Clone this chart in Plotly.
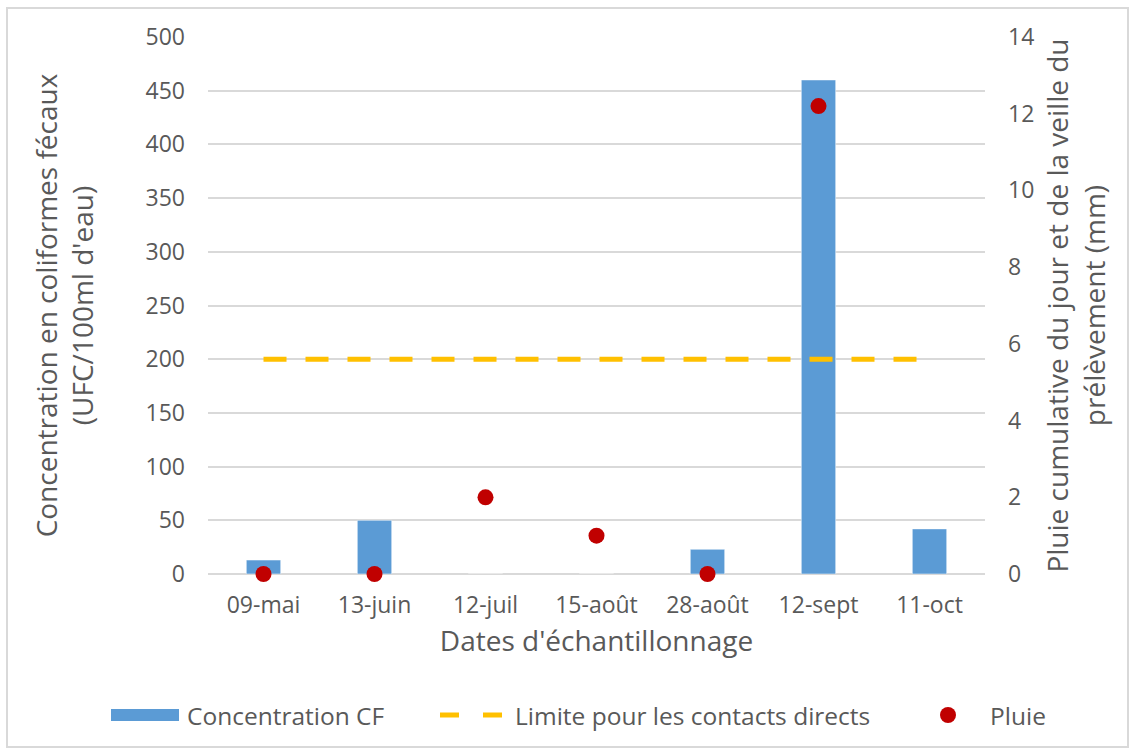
import plotly.graph_objects as go

# Sampling dates
dates = ["09-mai", "13-juin", "12-juil", "15-août", "28-août", "12-sept", "11-oct"]
# Faecal coliform concentration (UFC/100ml d'eau); 12-juil and 15-août measured at zero
concentration_cf = [13, 50, 0, 0, 23, 460, 42]
# Direct-contact limit (UFC/100ml)
limite_contact = [200, 200, 200, 200, 200, 200, 200]
# Cumulative rain of the day and the day before (mm); no reading for 11-oct
pluie = [0, 0, 2, 1, 0, 12.2, None]

left_ticks = [0, 50, 100, 150, 200, 250, 300, 350, 400, 450, 500]
right_ticks = [0, 2, 4, 6, 8, 10, 12, 14]

FONT = "Open Sans"
GREY = "#595959"
BLUE = "#5B9BD5"
GOLD = "#FFC000"
RED = "#C00000"

TICK_SIZE = 23
TITLE_SIZE = 28
LEGEND_SIZE = 24.5

W, H = 1130, 749
L, R, T, B = 208, 985, 37, 574  # plot area in pixels


def px(x):
    return (x - L) / (R - L)


def py(y):
    return (B - y) / (B - T)


fig = go.Figure()

fig.add_trace(go.Bar(
    x=dates, y=concentration_cf, name="Concentration CF",
    marker=dict(color=BLUE, line=dict(color="rgba(255,255,255,0.5)", width=1)),
    yaxis="y", showlegend=False,
))
fig.add_trace(go.Scatter(
    x=dates, y=limite_contact, name="Limite pour les contacts directs",
    mode="lines", line=dict(color=GOLD, width=5, dash="23px,19px"),
    yaxis="y", showlegend=False,
))
fig.add_trace(go.Scatter(
    x=dates, y=pluie, name="Pluie", mode="markers",
    marker=dict(color=RED, size=16), yaxis="y2", cliponaxis=False,
    showlegend=False,
))

# Legend drawn as a row of swatches and labels under the chart
legend_y = 715
shapes = [
    # outer frame of the chart
    dict(type="rect", xref="paper", yref="paper",
         x0=px(7), x1=px(1128), y0=py(747), y1=py(8),
         line=dict(color="#D9D9D9", width=2), fillcolor="rgba(0,0,0,0)", layer="below"),
    # bar swatch
    dict(type="rect", xref="paper", yref="paper",
         x0=px(111), x1=px(179), y0=py(721), y1=py(709),
         line=dict(width=0), fillcolor=BLUE),
    # dashed line swatch
    dict(type="line", xref="paper", yref="paper",
         x0=px(440), x1=px(459), y0=py(legend_y), y1=py(legend_y),
         line=dict(color=GOLD, width=5)),
    dict(type="line", xref="paper", yref="paper",
         x0=px(483), x1=px(502), y0=py(legend_y), y1=py(legend_y),
         line=dict(color=GOLD, width=5)),
    # marker swatch
    dict(type="circle", xref="paper", yref="paper",
         x0=px(940), x1=px(956), y0=py(legend_y + 8), y1=py(legend_y - 8),
         line=dict(width=0), fillcolor=RED),
]

annotations = [
    dict(text="Concentration CF", x=px(185), y=py(legend_y)),
    dict(text="Limite pour les contacts directs", x=px(513), y=py(legend_y)),
    dict(text="Pluie", x=px(988), y=py(legend_y)),
]
annotations = [dict(a, xref="paper", yref="paper", xanchor="left", yanchor="middle",
                    showarrow=False, font=dict(family=FONT, size=LEGEND_SIZE, color=GREY))
               for a in annotations]

fig.update_layout(
    width=W, height=H,
    margin=dict(l=L, r=W - R, t=T, b=H - B),
    paper_bgcolor="white", plot_bgcolor="white",
    font=dict(family=FONT, color=GREY, size=TICK_SIZE),
    bargap=0.69,
    xaxis=dict(
        type="category", showgrid=False, showline=False, ticks="",
        tickfont=dict(size=TICK_SIZE, color=GREY), ticklabelstandoff=15,
        title=dict(text="Dates d'échantillonnage", font=dict(size=TITLE_SIZE, color=GREY),
                   standoff=12),
    ),
    yaxis=dict(
        range=[0, 500], tickvals=left_ticks, showgrid=True, gridcolor="#D9D9D9",
        gridwidth=1.5, zeroline=True, zerolinecolor="#D9D9D9", zerolinewidth=1.5,
        showline=False, ticks="", ticklabelstandoff=22,
        tickfont=dict(size=TICK_SIZE, color=GREY),
        title=dict(text="Concentration en coliformes fécaux<br>(UFC/100ml d'eau)",
                   font=dict(size=TITLE_SIZE, color=GREY), standoff=43),
    ),
    yaxis2=dict(
        range=[0, 14], tickvals=right_ticks, overlaying="y", side="right",
        showgrid=False, zeroline=False, showline=False, ticks="", ticklabelstandoff=22,
        tickfont=dict(size=TICK_SIZE, color=GREY),
        title=dict(text="Pluie cumulative du jour et de la veille du<br>prélèvement (mm)",
                   font=dict(size=TITLE_SIZE, color=GREY), standoff=15),
    ),
    shapes=shapes,
    annotations=annotations,
    showlegend=False,
)

fig.write_html("out.html")
